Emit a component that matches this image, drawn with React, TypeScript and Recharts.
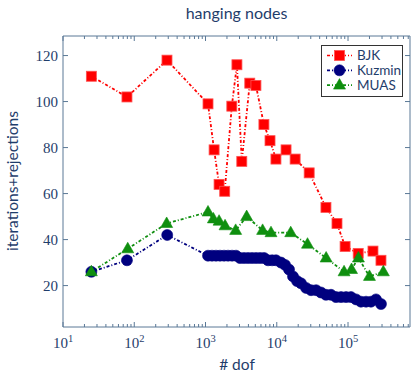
import React from 'react';
import { LineChart, Line, XAxis, YAxis } from 'recharts';

// degrees of freedom and iteration counts
const bjkDof = [25, 79, 288, 1084, 1320, 1550, 1860, 2340, 2760, 3230, 4180, 5100, 6600, 8040, 9740, 13500, 18100, 28500, 49000, 70000, 91000, 139000, 224000, 290000];
const bjkIter = [111, 102, 118, 99, 79, 64, 61, 98, 116, 74, 108, 107, 90, 83, 75, 79, 75, 69, 54, 47, 37, 34, 35, 31];

const kuzminDof = [25, 79, 290, 1084, 1234, 1404, 1598, 1820, 2071, 2357, 2683, 3055, 3477, 3958, 4500, 5120, 5830, 6630, 7550, 8600, 9760, 11500, 13060, 14860, 16900, 19240, 21900, 25750, 30300, 35600, 41800, 49100, 57700, 67900, 79800, 93800, 110000, 129500, 152000, 179000, 210000, 247000, 290000];
const kuzminIter = [26, 31, 42, 33, 33, 33, 33, 33, 33, 33, 33, 32, 32, 32, 32, 32, 32, 32, 31, 31, 31, 30, 29, 27, 24, 22, 21, 19, 18, 18, 17, 16, 16, 15, 15, 15, 15, 14, 13, 13, 13, 14, 12];

const muasDof = [25, 81, 285, 1084, 1290, 1550, 1880, 2650, 3780, 6330, 8300, 15700, 27000, 49300, 88000, 112000, 140000, 200000, 313000];
const muasIter = [26, 36, 47, 52, 49, 48, 46, 44, 50, 44, 43, 43, 38, 32, 26, 27, 32, 24, 26];

const yTicks = [20, 40, 60, 80, 100, 120];
const decades = [1, 2, 3, 4, 5];

const X_MAX = 741000;
const xTicks: number[] = [];
decades.forEach((d) => {
  for (let m = 1; m <= 9; m++) {
    const v = m * Math.pow(10, d);
    if (v <= X_MAX) xTicks.push(v);
  }
});

const toPoints = (xs: number[], ys: number[]) => xs.map((x, i) => ({ x, y: ys[i] }));

const AXIS = '#5a7896';
const TEXT = '#1f3d6b';
const RED = '#ff0000';
const NAVY = '#00007f';
const GREEN = '#0f8f0f';
const DASH = '3 2 1 2';

const Square = ({ cx, cy }: any) => (
  <rect x={cx - 5} y={cy - 5} width={10} height={10} fill={RED} stroke="#ff5050" strokeWidth={0.8} />
);
const Circle = ({ cx, cy }: any) => <circle cx={cx} cy={cy} r={5.5} fill={NAVY} stroke={NAVY} strokeWidth={0.6} />;
const Triangle = ({ cx, cy }: any) => (
  <polygon points={`${cx},${cy - 6.5} ${cx - 6},${cy + 4} ${cx + 6},${cy + 4}`} fill={GREEN} stroke={GREEN} strokeWidth={0.6} />
);

const isDecade = (v: number) => Math.abs(Math.log10(v) - Math.round(Math.log10(v))) < 1e-9;

const BottomTick = ({ x, y, payload }: any) => {
  const major = isDecade(payload.value);
  return (
    <g>
      <line x1={x} x2={x} y1={y} y2={y - (major ? 5 : 3)} stroke={AXIS} />
      {major && (
        <text x={x} y={y + 21} textAnchor="middle" fill={TEXT} fontFamily="Liberation Serif" fontSize={15}>
          10<tspan dy={-6} fontSize={10.5}>{Math.round(Math.log10(payload.value))}</tspan>
        </text>
      )}
    </g>
  );
};

const TopTick = ({ x, y, payload }: any) => {
  const major = isDecade(payload.value);
  return <line x1={x} x2={x} y1={y} y2={y + (major ? 5 : 3)} stroke={AXIS} />;
};

const LeftTick = ({ x, y, payload }: any) => (
  <g>
    <line x1={x} x2={x + 5} y1={y} y2={y} stroke={AXIS} />
    <text x={x - 5} y={y + 5} textAnchor="end" fill={TEXT} fontFamily="Liberation Serif" fontSize={15}>
      {payload.value}
    </text>
  </g>
);

const RightTick = ({ x, y }: any) => <line x1={x} x2={x - 5} y1={y} y2={y} stroke={AXIS} />;

const legendItems = [
  { name: 'BJK', color: RED, Mark: Square },
  { name: 'Kuzmin', color: NAVY, Mark: Circle },
  { name: 'MUAS', color: GREEN, Mark: Triangle },
];

export default function App() {
  return (
    <div style={{ position: 'relative', width: 411, height: 373 }}>
      <style>{'body{margin:0}'}</style>
      <LineChart width={411} height={373} margin={{ top: 0, right: 0, bottom: 0, left: 0 }}>
        <XAxis
          xAxisId="b"
          dataKey="x"
          type="number"
          scale="log"
          domain={[10, X_MAX]}
          allowDataOverflow
          ticks={xTicks}
          interval={0}
          height={46}
          tickSize={0}
          tickMargin={0}
          tickLine={false}
          stroke={AXIS}
          tick={<BottomTick />}
        />
        <XAxis
          xAxisId="t"
          orientation="top"
          dataKey="x"
          type="number"
          scale="log"
          domain={[10, X_MAX]}
          allowDataOverflow
          ticks={xTicks}
          interval={0}
          height={36}
          tickSize={0}
          tickMargin={0}
          tickLine={false}
          stroke={AXIS}
          tick={<TopTick />}
        />
        <YAxis
          yAxisId="l"
          type="number"
          domain={[2, 128.5]}
          allowDataOverflow
          ticks={yTicks}
          interval={0}
          width={63}
          tickSize={0}
          tickMargin={0}
          tickLine={false}
          stroke={AXIS}
          tick={<LeftTick />}
        />
        <YAxis
          yAxisId="r"
          orientation="right"
          type="number"
          domain={[2, 128.5]}
          allowDataOverflow
          ticks={yTicks}
          interval={0}
          width={1}
          tickSize={0}
          tickMargin={0}
          tickLine={false}
          stroke={AXIS}
          tick={<RightTick />}
        />
        <Line
          xAxisId="b"
          yAxisId="l"
          data={toPoints(bjkDof, bjkIter)}
          dataKey="y"
          stroke={RED}
          strokeWidth={1.8}
          strokeDasharray={DASH}
          dot={(p: any) => <Square key={`b${p.index}`} cx={p.cx} cy={p.cy} />}
          isAnimationActive={false}
        />
        <Line
          xAxisId="b"
          yAxisId="l"
          data={toPoints(kuzminDof, kuzminIter)}
          dataKey="y"
          stroke={NAVY}
          strokeWidth={1.8}
          strokeDasharray={DASH}
          dot={(p: any) => <Circle key={`k${p.index}`} cx={p.cx} cy={p.cy} />}
          isAnimationActive={false}
        />
        <Line
          xAxisId="b"
          yAxisId="l"
          data={toPoints(muasDof, muasIter)}
          dataKey="y"
          stroke={GREEN}
          strokeWidth={1.8}
          strokeDasharray={DASH}
          dot={(p: any) => <Triangle key={`m${p.index}`} cx={p.cx} cy={p.cy} />}
          isAnimationActive={false}
        />
      </LineChart>
      <svg width={411} height={373} style={{ position: 'absolute', left: 0, top: 0, pointerEvents: 'none' }}>
        <text x={236.5} y={19} textAnchor="middle" fill={TEXT} fontFamily="Lato" fontSize={16}>
          hanging nodes
        </text>
        <text x={237} y={370} textAnchor="middle" fill={TEXT} fontFamily="Lato" fontSize={15.5}>
          # dof
        </text>
        <text
          x={18}
          y={181}
          transform="rotate(-90 18 181)"
          textAnchor="middle"
          fill={TEXT}
          fontFamily="Lato"
          fontSize={15.5}
        >
          iterations+rejections
        </text>
        <rect x={321.5} y={45.5} width={81} height={51} fill="#fff" stroke="#333" strokeWidth={1} />
        {legendItems.map(({ name, color, Mark }, i) => {
          const cy = 55.5 + i * 14.8;
          return (
            <g key={name}>
              <line x1={327} x2={352} y1={cy} y2={cy} stroke={color} strokeWidth={1.7} strokeDasharray={DASH} />
              <Mark cx={339.5} cy={cy} />
              <text x={357} y={cy + 4.5} fill={TEXT} fontFamily="Lato" fontSize={13.5}>
                {name}
              </text>
            </g>
          );
        })}
      </svg>
    </div>
  );
}
